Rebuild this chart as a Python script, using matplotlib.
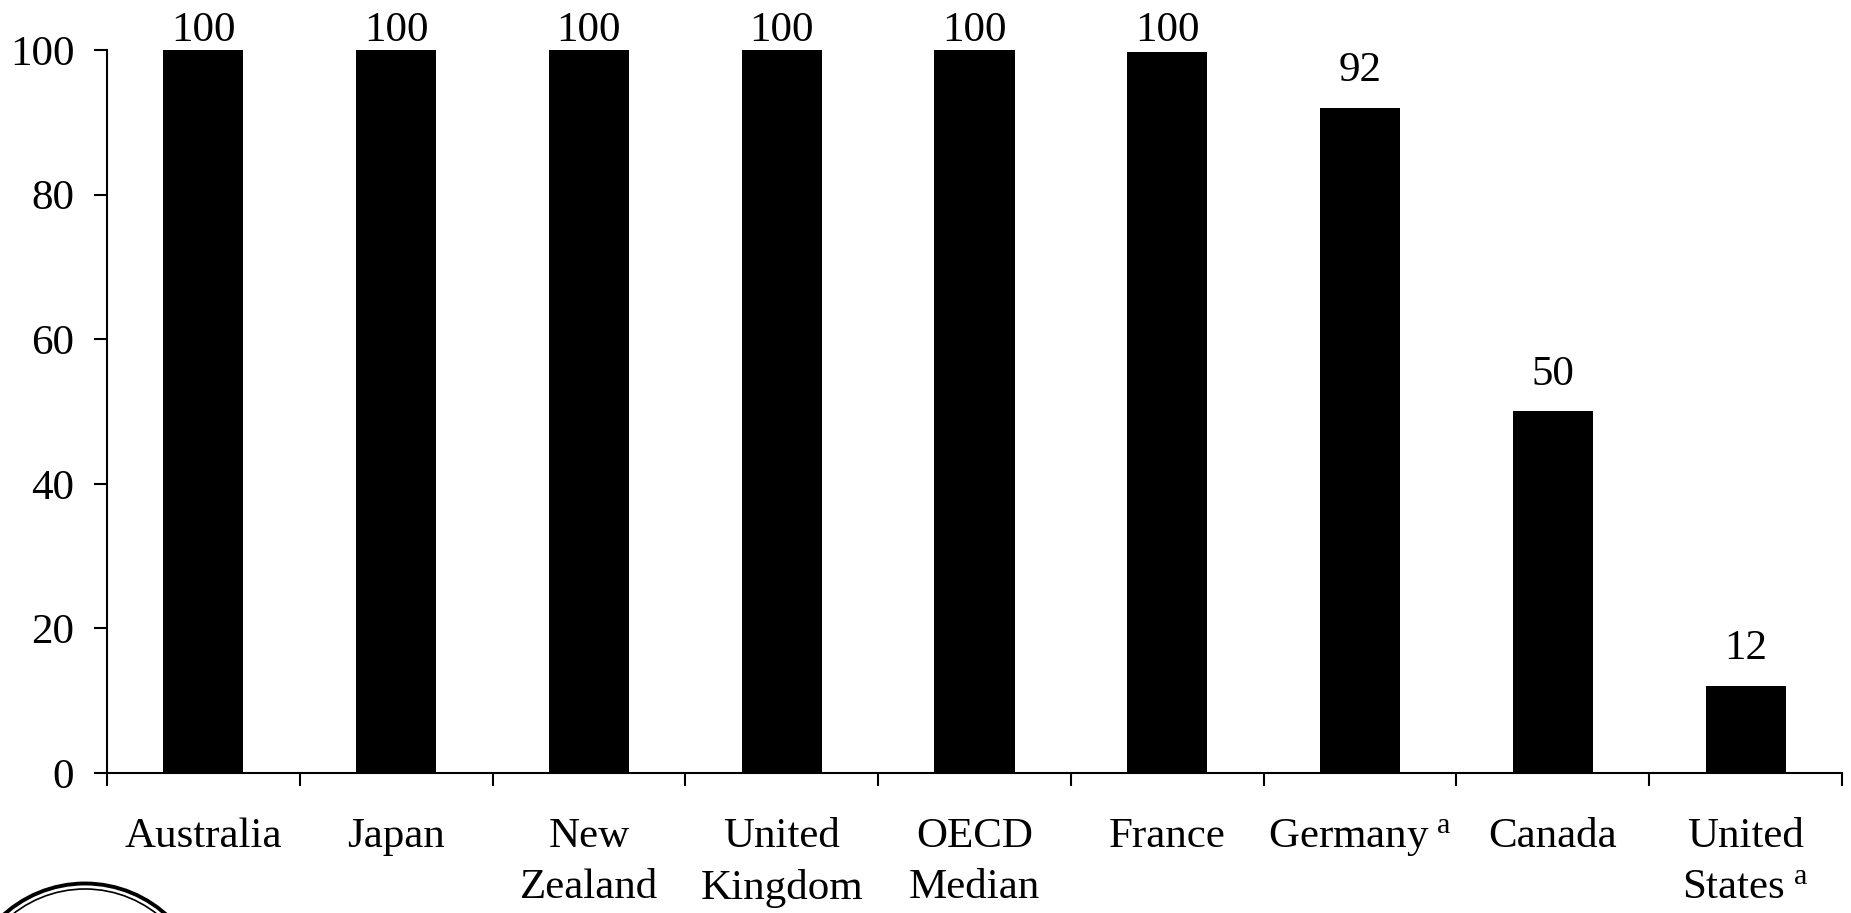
import numpy as np
import matplotlib
matplotlib.use('Agg')
import matplotlib.pyplot as plt
from matplotlib.patches import Circle

# share of population covered (%)
countries = ['Australia', 'Japan', 'New\nZealand', 'United\nKingdom', 'OECD\nMedian',
             'France', r'Germany$\;^{\mathrm{a}}$', 'Canada', 'United\n' + r'States$\;^{\mathrm{a}}$']
coverage = [100, 100, 100, 100, 100, 99.7, 92, 50, 12]
yticks = [0, 20, 40, 60, 80, 100]

plt.rcParams['font.family'] = ['Liberation Serif', 'DejaVu Serif']
plt.rcParams['mathtext.fontset'] = 'custom'
plt.rcParams['mathtext.rm'] = 'Liberation Serif'
plt.rcParams['mathtext.it'] = 'Liberation Serif:italic'

fs = 31
W, H = 1851, 913
fig = plt.figure(figsize=(W / 100, H / 100), dpi=100)
ax = fig.add_axes([107 / W, (H - 773) / H, (1842 - 107) / W, (773 - 50) / H])

x = np.arange(len(countries))
ax.bar(x, coverage, width=0.415, color='black', zorder=2)

# value labels above bars, squeezed under the top edge for the full bars
for xi, v in zip(x, coverage):
    ypos = min(v + 3.7, 101.2)
    ax.text(xi, ypos, '{:.0f}'.format(v), ha='center', va='baseline',
            fontsize=fs, clip_on=False)

ax.set_xlim(-0.5, len(countries) - 0.5)
ax.set_ylim(0, 100)
ax.set_yticks(yticks)
ax.set_yticklabels([str(t) for t in yticks], fontsize=fs)

ax.set_xticks(x)
ax.set_xticklabels(countries, fontsize=fs, linespacing=1.42)
ax.set_xticks(np.arange(-0.5, len(countries)), minor=True)
ax.tick_params(axis='x', which='major', length=0, pad=32)
ax.tick_params(axis='x', which='minor', length=9.5, width=1.5, direction='out')
ax.tick_params(axis='y', which='major', length=9.5, width=1.5, direction='out', pad=14)

for s in ['top', 'right']:
    ax.spines[s].set_visible(False)
for s in ['left', 'bottom']:
    ax.spines[s].set_linewidth(1.5)

# seal in the lower left corner
ring_c = (85 / 100, (H - 1005) / 100)
fig.add_artist(Circle(ring_c, 1.215, transform=fig.dpi_scale_trans, fill=False,
                      lw=2.8, ec='black', clip_on=False))
fig.add_artist(Circle(ring_c, 1.16, transform=fig.dpi_scale_trans, fill=False,
                      lw=1.2, ec='black', clip_on=False))

fig.savefig('out.png', dpi=100)
